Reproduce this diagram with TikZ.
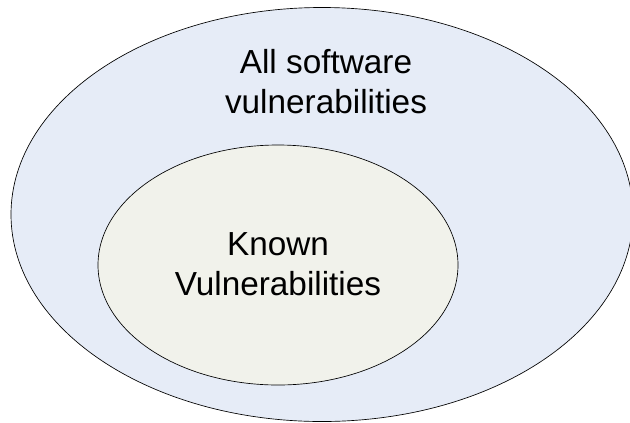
\documentclass[tikz,border=0pt]{standalone}
\usepackage{fontspec}
\setmainfont{Liberation Sans}
\usetikzlibrary{shapes.geometric}
\definecolor{outerfill}{RGB}{230,236,247}
\definecolor{innerfill}{RGB}{241,242,235}
\tikzset{
  setshape/.style={ellipse, draw=black, line width=0.5pt, inner sep=0pt},
  setlabel/.style={align=center, inner sep=0pt, font=\fontsize{25}{30}\selectfont}
}
\begin{document}
\begin{tikzpicture}[x=0.75pt, y=-0.75pt]
  \useasboundingbox (0,0) rectangle (630,422);
  % outer set: all vulnerabilities (its right edge runs past the frame)
  \node[setshape, fill=outerfill, minimum width=466.5pt, minimum height=310.5pt] (all) at (322,214.5) {};
  % inner set: known vulnerabilities
  \node[setshape, fill=innerfill, minimum width=270pt, minimum height=180pt] (known) at (278,265) {};
  \node[setlabel] (alllabel) at (326,82) {All software\\vulnerabilities};
  \node[setlabel] (knownlabel) at (278,264) {Known\\Vulnerabilities};
\end{tikzpicture}
\end{document}
